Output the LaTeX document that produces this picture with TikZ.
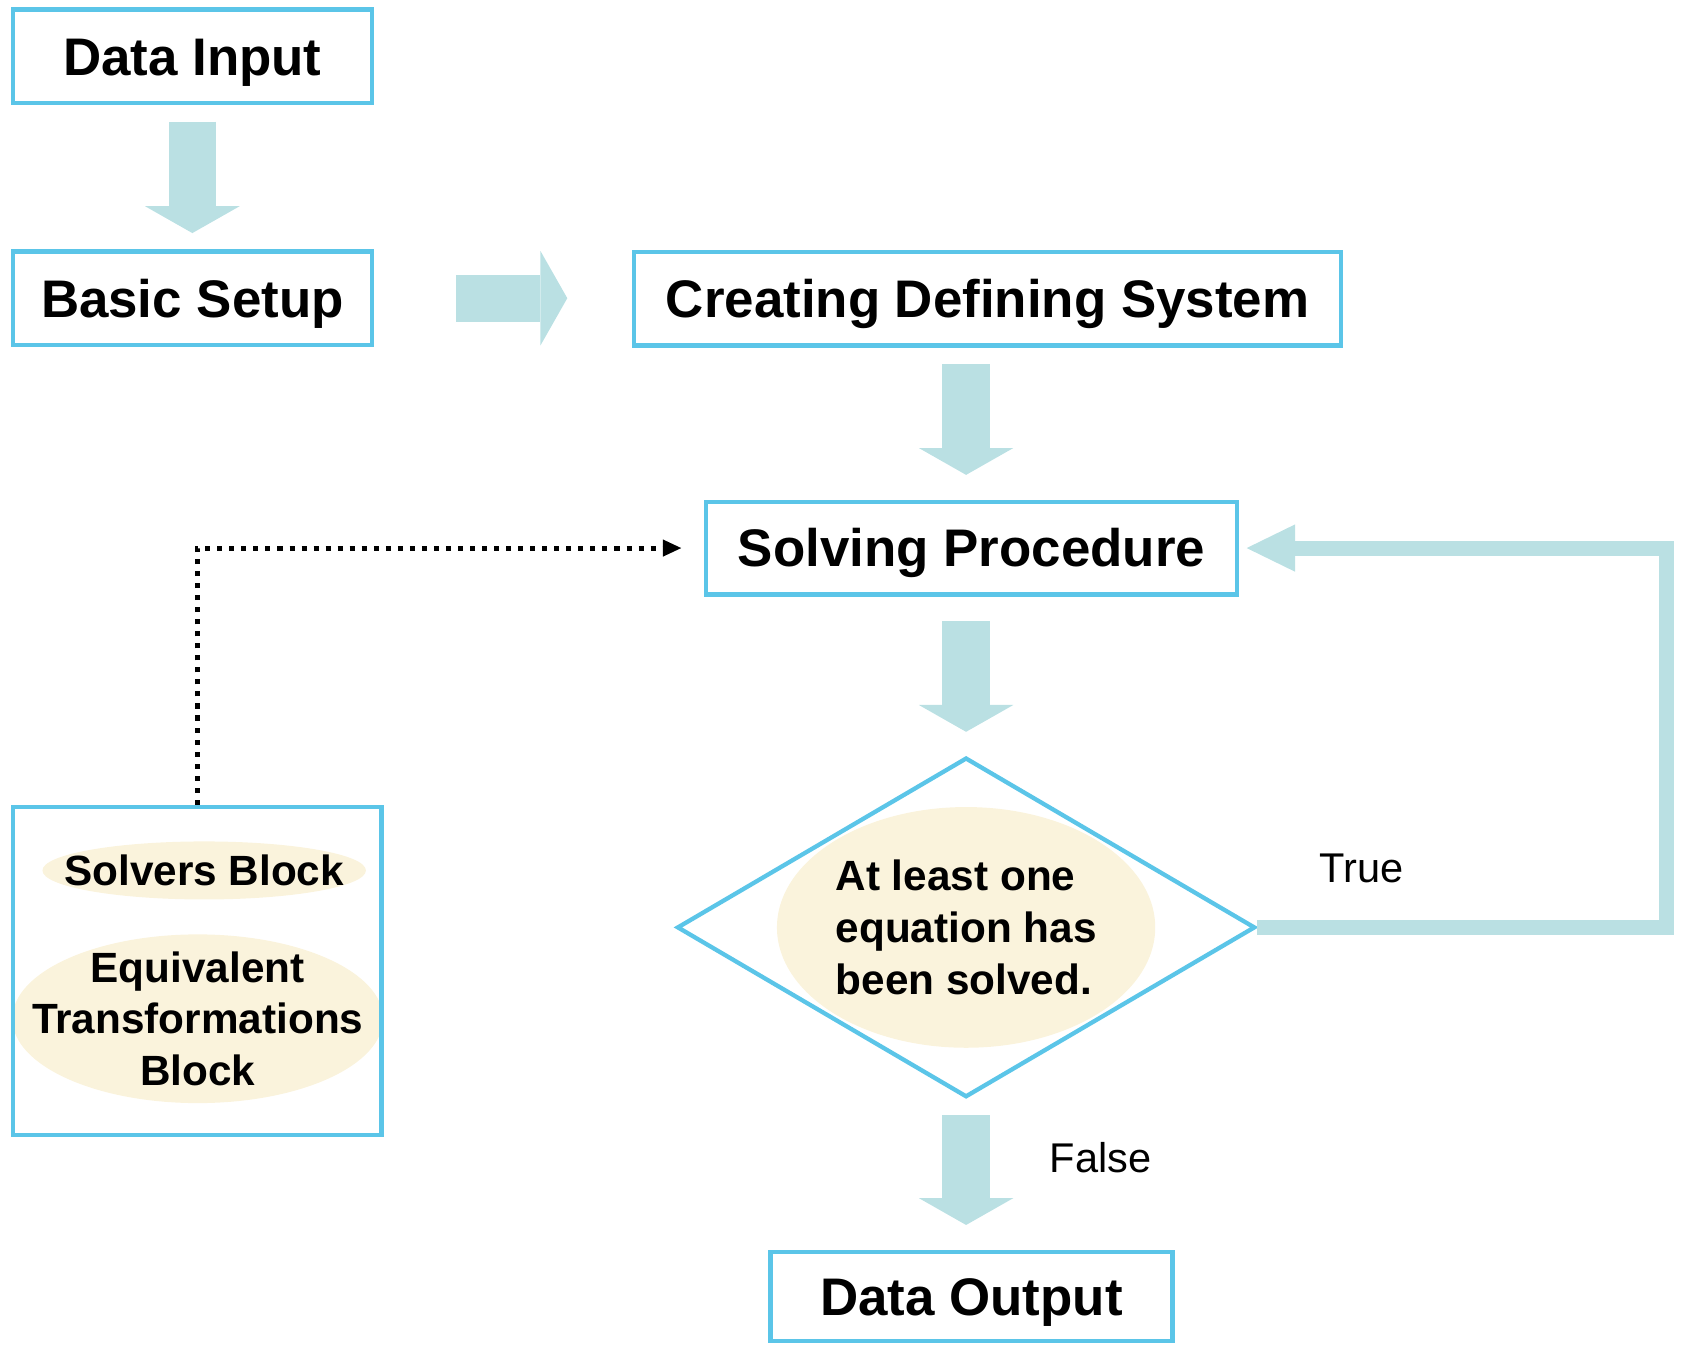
\documentclass[tikz,border=0pt]{standalone}
\usepackage{fontspec}
\setmainfont{Liberation Sans}
\usetikzlibrary{arrows.meta,positioning,shapes.geometric}
\definecolor{frameblue}{HTML}{5BC5E8}
\definecolor{flowcyan}{HTML}{BAE0E3}
\definecolor{cream}{HTML}{FAF3DC}

\begin{document}
\begin{tikzpicture}[
  box/.style={draw=frameblue,line width=0.42mm,inner sep=0pt,minimum height=0.87cm,text height=10pt,text depth=0pt,font=\fontsize{14}{17}\selectfont\bfseries},
  bubble/.style={ellipse,fill=cream,inner sep=0pt},
  tag/.style={font=\fontsize{11.2}{13.7}\selectfont\bfseries,align=center},
  lbl/.style={font=\fontsize{11}{13}\selectfont},
  flowarrow/.style={draw=flowcyan,line width=0.44cm,-{Triangle[width=0.88cm,length=0.25cm,line width=0pt]}},
]
  \useasboundingbox (0,0) rectangle (15.68,-12.53);

  \node[box,minimum width=3.34cm] (input) at (1.79,-0.525) {Data Input};
  \node[box,minimum width=3.34cm] (setup) at (1.79,-2.775) {Basic Setup};
  \node[box,minimum width=6.58cm] (creating) at (9.19,-2.78) {Creating Defining System};
  \node[box,minimum width=4.94cm,minimum height=0.86cm] (solving) at (9.04,-5.10) {Solving Procedure};
  \node[box,minimum width=3.74cm,minimum height=0.83cm] (output) at (9.04,-12.065) {Data Output};

  \node[bubble,minimum width=3.52cm,minimum height=2.24cm] (oval) at (8.99,-8.63) {};
  \node[tag,align=left] (question) at (oval) {At least one\\equation has\\been solved.};
  \node[diamond,draw=frameblue,line width=0.4mm,inner sep=0pt,minimum width=5.38cm,minimum height=3.16cm] (check) at (8.99,-8.63) {};

  \node[bubble,minimum width=3.01cm,minimum height=0.54cm] (solvers) at (1.90,-8.10) {};
  \node[tag] (solverstxt) at (solvers) {Solvers Block};
  \node[bubble,minimum width=3.45cm,minimum height=1.57cm] (equiv) at (1.84,-9.48) {};
  \node[tag] (equivtxt) at (equiv) {Equivalent\\Transformations\\Block};
  \node[box,minimum width=3.43cm,minimum height=3.05cm] (tools) at (1.835,-9.035) {};

  \draw[flowarrow,shorten <=0.15cm,shorten >=0.15cm] (input) -- (setup);
  \draw[flowarrow,shorten <=0.76cm,shorten >=0.60cm] (setup.east) -- (setup.east -| creating.west);
  \draw[flowarrow,shorten <=0.15cm,shorten >=0.23cm] (creating.south -| check) -- (solving.north -| check);
  \draw[flowarrow,shorten <=0.23cm,shorten >=0.22cm] (solving.south -| check) -- (check.north);
  \draw[flowarrow,shorten <=0.15cm,shorten >=0.23cm] (check.south) -- (output.north -| check);

  \draw[flowcyan,line width=0.14cm,-{Triangle[width=0.44cm,length=0.45cm,line width=0pt]},shorten >=0.07cm] (check.east) -- ++(3.81,0) |- (solving.east);
  \draw[line width=0.47mm,dash pattern=on 0.47mm off 0.65mm,-{Triangle[length=1.7mm,width=1.6mm,line width=0pt]},shorten >=0.21cm] (tools.north) |- (solving.west);

  \node[lbl] (true) at (12.67,-8.08) {True};
  \node[lbl] (false) at (10.24,-10.77) {False};
\end{tikzpicture}
\end{document}
